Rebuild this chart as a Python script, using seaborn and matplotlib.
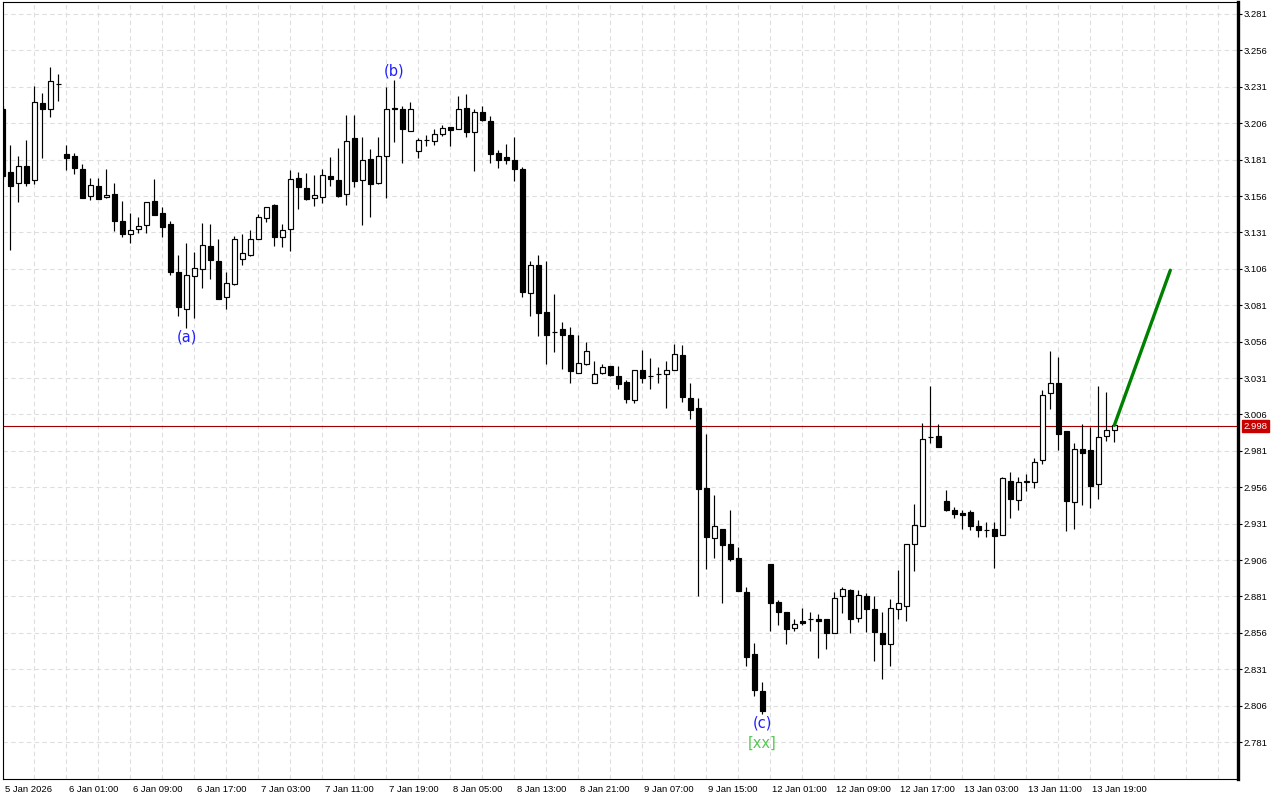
import numpy as np
import pandas as pd
import matplotlib
matplotlib.use("Agg")
import matplotlib.pyplot as plt
import matplotlib.transforms as mtransforms
import seaborn as sns

# ---------------- data (H1 candles) ----------------
opens = [3.2158, 3.1723, 3.1647, 3.1764, 3.1668, 3.2199, 3.2160, 3.2329, 3.1848, 3.1835,
         3.1745, 3.1562, 3.1629, 3.1551, 3.1574, 3.1388, 3.1297, 3.1331, 3.1363, 3.1526,
         3.1443, 3.1368, 3.1038, 3.0782, 3.1013, 3.1056, 3.1214, 3.1111, 3.0864, 3.0953,
         3.1125, 3.1152, 3.1262, 3.1407, 3.1498, 3.1276, 3.1331, 3.1684, 3.1615, 3.1544,
         3.1553, 3.1697, 3.1668, 3.1571, 3.1956, 3.1668, 3.1812, 3.1652, 3.1832, 3.2162,
         3.2155, 3.2004, 3.1867, 3.1942, 3.1936, 3.1984, 3.2032, 3.2018, 3.2162, 3.2002,
         3.2135, 3.2073, 3.1855, 3.1826, 3.1807, 3.1743, 3.0892, 3.1084, 3.0761, 3.0628,
         3.0645, 3.0605, 3.0347, 3.0406, 3.0274, 3.0342, 3.0393, 3.0322, 3.0283, 3.0161,
         3.0363, 3.0322, 3.0338, 3.0335, 3.0363, 3.0466, 3.0171, 3.0102, 2.9552, 2.9209,
         2.9271, 2.9168, 2.9072, 2.8838, 2.8412, 2.8158, 2.9030, 2.8772, 2.8703, 2.8596,
         2.8641, 2.8653, 2.8653, 2.8653, 2.8556, 2.8811, 2.8852, 2.8664, 2.8811, 2.8721,
         2.8557, 2.8481, 2.8721, 2.8746, 2.9167, 2.9291, 2.9902, 2.9912, 2.9465, 2.9403,
         2.9385, 2.9389, 2.9293, 2.9268, 2.9271, 2.9229, 2.9603, 2.9470, 2.9598, 2.9593,
         2.9745, 3.0205, 3.0273, 2.9946, 2.9461, 2.9822, 2.9816, 2.9580, 2.9909, 2.9951]
highs = [3.2180, 3.1910, 3.1835, 3.1945, 3.2315, 3.2267, 3.2448, 3.2398, 3.1910, 3.1855,
         3.1780, 3.1684, 3.1684, 3.1745, 3.1649, 3.1526, 3.1443, 3.1418, 3.1519, 3.1679,
         3.1487, 3.1386, 3.1155, 3.1237, 3.1175, 3.1372, 3.1368, 3.1262, 3.1038, 3.1285,
         3.1299, 3.1329, 3.1434, 3.1482, 3.1505, 3.1368, 3.1739, 3.1723, 3.1716, 3.1704,
         3.1745, 3.1828, 3.1890, 3.2116, 3.2116, 3.1963, 3.1880, 3.1965, 3.2311, 3.2357,
         3.2178, 3.2203, 3.1956, 3.1977, 3.2018, 3.2046, 3.2032, 3.2247, 3.2261, 3.2155,
         3.2176, 3.2110, 3.1876, 3.1917, 3.1963, 3.1757, 3.1112, 3.1155, 3.1114, 3.0887,
         3.0693, 3.0660, 3.0605, 3.0557, 3.0427, 3.0406, 3.0393, 3.0393, 3.0297, 3.0363,
         3.0500, 3.0445, 3.0384, 3.0427, 3.0544, 3.0537, 3.0274, 3.0171, 2.9926, 2.9505,
         2.9271, 2.9404, 2.9147, 2.8877, 2.8488, 2.8220, 2.9030, 2.8785, 2.8703, 2.8653,
         2.8728, 2.8703, 2.8689, 2.8653, 2.8840, 2.8873, 2.8859, 2.8852, 2.8831, 2.8811,
         2.8703, 2.8790, 2.8991, 2.9170, 2.9444, 3.0003, 3.0257, 2.9994, 2.9541, 2.9424,
         2.9403, 2.9403, 2.9335, 2.9321, 2.9319, 2.9628, 2.9664, 2.9632, 2.9651, 2.9763,
         3.0228, 3.0496, 3.0457, 2.9946, 2.9861, 2.9992, 2.9974, 3.0255, 3.0216, 2.9985]
lows = [3.1680, 3.1189, 3.1521, 3.1629, 3.1645, 3.1821, 3.2105, 3.2215, 3.1741, 3.1713,
        3.1549, 3.1535, 3.1539, 3.1544, 3.1322, 3.1281, 3.1239, 3.1308, 3.1304, 3.1432,
        3.1281, 3.1017, 3.0736, 3.0651, 3.0720, 3.0930, 3.0990, 3.0850, 3.0782, 3.0946,
        3.1084, 3.1146, 3.1262, 3.1384, 3.1219, 3.1212, 3.1185, 3.1473, 3.1535, 3.1494,
        3.1514, 3.1629, 3.1551, 3.1498, 3.1624, 3.1363, 3.1413, 3.1642, 3.1544, 3.1933,
        3.1785, 3.2004, 3.1823, 3.1906, 3.1913, 3.1972, 3.1906, 3.2018, 3.1963, 3.1734,
        3.2078, 3.1789, 3.1755, 3.1778, 3.1665, 3.0869, 3.0738, 3.0601, 3.0406, 3.0491,
        3.0370, 3.0278, 3.0347, 3.0402, 3.0274, 3.0335, 3.0326, 3.0237, 3.0141, 3.0141,
        3.0278, 3.0237, 3.0274, 3.0107, 3.0363, 3.0148, 3.0031, 2.8815, 2.8999, 2.9076,
        2.8767, 2.9056, 2.8850, 2.8335, 2.8128, 2.8002, 2.8575, 2.8614, 2.8486, 2.8575,
        2.8614, 2.8575, 2.8389, 2.8447, 2.8556, 2.8699, 2.8556, 2.8637, 2.8568, 2.8369,
        2.8241, 2.8334, 2.8657, 2.8640, 2.8987, 2.9291, 2.9861, 2.9838, 2.9399, 2.9351,
        2.9275, 2.9268, 2.9220, 2.9220, 2.9007, 2.9229, 2.9351, 2.9403, 2.9536, 2.9557,
        2.9722, 3.0097, 2.9816, 2.9262, 2.9275, 2.9440, 2.9420, 2.9481, 2.9880, 2.9868]
closes = [3.1700, 3.1631, 3.1764, 3.1652, 3.2203, 3.2160, 3.2348, 3.2329, 3.1823, 3.1755,
          3.1549, 3.1633, 3.1539, 3.1567, 3.1391, 3.1301, 3.1324, 3.1354, 3.1519, 3.1432,
          3.1349, 3.1040, 3.0800, 3.1015, 3.1063, 3.1223, 3.1123, 3.0850, 3.0960, 3.1262,
          3.1168, 3.1262, 3.1413, 3.1482, 3.1276, 3.1324, 3.1674, 3.1624, 3.1542, 3.1567,
          3.1702, 3.1679, 3.1560, 3.1938, 3.1665, 3.1807, 3.1645, 3.1832, 3.2155, 3.2160,
          3.2018, 3.2155, 3.1942, 3.1943, 3.1984, 3.2025, 3.2016, 3.2155, 3.2002, 3.2135,
          3.2085, 3.1851, 3.1810, 3.1810, 3.1743, 3.0903, 3.1084, 3.0759, 3.0608, 3.0627,
          3.0608, 3.0360, 3.0411, 3.0493, 3.0335, 3.0384, 3.0333, 3.0271, 3.0168, 3.0363,
          3.0313, 3.0322, 3.0338, 3.0363, 3.0473, 3.0182, 3.0093, 2.9550, 2.9221, 2.9292,
          2.9166, 2.9067, 2.8850, 2.8396, 2.8167, 2.8025, 2.8767, 2.8705, 2.8588, 2.8619,
          2.8630, 2.8653, 2.8639, 2.8556, 2.8797, 2.8859, 2.8657, 2.8818, 2.8726, 2.8568,
          2.8486, 2.8728, 2.8763, 2.9170, 2.9298, 2.9889, 2.9902, 2.9838, 2.9406, 2.9378,
          2.9371, 2.9291, 2.9268, 2.9268, 2.9227, 2.9621, 2.9481, 2.9593, 2.9598, 2.9731,
          3.0193, 3.0273, 2.9928, 2.9468, 2.9822, 2.9797, 2.9571, 2.9903, 2.9951, 2.9985]

time_labels = ["5 Jan 2026", "6 Jan 01:00", "6 Jan 09:00", "6 Jan 17:00", "7 Jan 03:00",
               "7 Jan 11:00", "7 Jan 19:00", "8 Jan 05:00", "8 Jan 13:00", "8 Jan 21:00",
               "9 Jan 07:00", "9 Jan 15:00", "12 Jan 01:00", "12 Jan 09:00", "12 Jan 17:00",
               "13 Jan 03:00", "13 Jan 11:00", "13 Jan 19:00", "", ""]
price_ticks = [3.281, 3.256, 3.231, 3.206, 3.181, 3.156, 3.131, 3.106, 3.081, 3.056, 3.031,
               3.006, 2.981, 2.956, 2.931, 2.906, 2.881, 2.856, 2.831, 2.806, 2.781]
last_price = 2.998
proj_bars = [139, 146]
proj_prices = [2.9985, 3.105]
wave_names = ["(a)", "(b)", "(c)"]
wave_bars = [23, 49, 95]
wave_at_high = [False, True, False]
degree_name = "[xx]"

# ---------------- style ----------------
sns.set_style("white")
plt.rcParams["font.family"] = ["Liberation Sans", "DejaVu Sans"]

W, H = 1280, 800
fig = plt.figure(figsize=(W / 100, H / 100), dpi=100)
ax = fig.add_axes([2.5 / W, 21 / H, 1235 / W, 777 / H])

df = pd.DataFrame({"open": opens, "high": highs, "low": lows, "close": closes})
df["bar"] = np.arange(len(df))
df["up"] = df["close"] >= df["open"]
df["bottom"] = df[["open", "close"]].min(axis=1)
df["height"] = (df["close"] - df["open"]).abs().clip(lower=0.00015)

# wicks
ax.vlines(df["bar"], df["low"], df["high"], color="black", lw=0.85, zorder=3)
# bodies
up = df[df["up"]]
dn = df[~df["up"]]
ax.bar(up["bar"], up["height"], bottom=up["bottom"], width=0.56, facecolor="white",
       edgecolor="black", linewidth=0.85, zorder=4)
ax.bar(dn["bar"], dn["height"], bottom=dn["bottom"], width=0.56, facecolor="black",
       edgecolor="black", linewidth=0.85, zorder=4)

# bid line
ax.axhline(last_price, color="#a00000", lw=0.8, zorder=2)

# projection line
sns.lineplot(x=proj_bars, y=proj_prices, ax=ax, color="#008000", lw=2.4, zorder=6)

# wave labels
for name, b, at_high in zip(wave_names, wave_bars, wave_at_high):
    if at_high:
        ax.annotate(name, xy=(b, highs[b]), xytext=(0, 6.5), textcoords="offset points",
                    ha="center", va="center", fontsize=10.5, color="#2020ff",
                    family=["DejaVu Sans"], zorder=7)
    else:
        ax.annotate(name, xy=(b, lows[b]), xytext=(0, -6.3), textcoords="offset points",
                    ha="center", va="center", fontsize=10.5, color="#2020ff",
                    family=["DejaVu Sans"], zorder=7)
ax.annotate(degree_name, xy=(wave_bars[2], lows[wave_bars[2]]), xytext=(0, -21),
            textcoords="offset points", ha="center", va="center", fontsize=10.5,
            color="#55c855", family=["DejaVu Sans"], zorder=7)

# axes limits
ax.set_xlim(0.025, 154.4)
ax.set_ylim(2.7556, 3.28924)

# grid
ax.set_xticks(np.arange(0, 156, 8))
ax.set_xticks(np.arange(4, 156, 8), minor=True)
ax.set_xticklabels(time_labels)
ax.set_yticks(price_ticks)
ax.set_yticklabels([f"{p:.3f}" for p in price_ticks])
ax.grid(True, which="both", axis="x", color="#dedede", lw=0.8, ls=(0, (4, 3)), zorder=0)
ax.grid(True, which="major", axis="y", color="#dedede", lw=0.8, ls=(0, (4, 3)), zorder=0)

ax.yaxis.tick_right()
ax.tick_params(axis="y", which="major", direction="out", length=3, width=0.8, pad=1.5,
               labelsize=6.8, colors="black", left=False, right=True)
ax.tick_params(axis="x", which="major", direction="out", length=3, width=0.8, pad=1.5,
               labelsize=6.8, colors="black")
ax.tick_params(axis="x", which="minor", length=0)
offset = mtransforms.ScaledTranslation(1.5 / 72, 0, fig.dpi_scale_trans)
for lbl in ax.get_xticklabels():
    lbl.set_horizontalalignment("left")
    lbl.set_transform(lbl.get_transform() + offset)

for side in ["left", "top", "bottom"]:
    ax.spines[side].set_color("black")
    ax.spines[side].set_linewidth(0.8)
ax.spines["right"].set_color("black")
ax.spines["right"].set_linewidth(2.4)

# current price tag
ax.annotate(f"{last_price:.3f}", xy=(1, last_price), xycoords=("axes fraction", "data"),
            xytext=(4.2, 0), textcoords="offset points", ha="left", va="center",
            fontsize=6.8, color="white", zorder=8, annotation_clip=False,
            bbox=dict(boxstyle="square,pad=0.15", fc="#c80000", ec="#c80000"))

fig.savefig("out.png", dpi=100, facecolor="white")
